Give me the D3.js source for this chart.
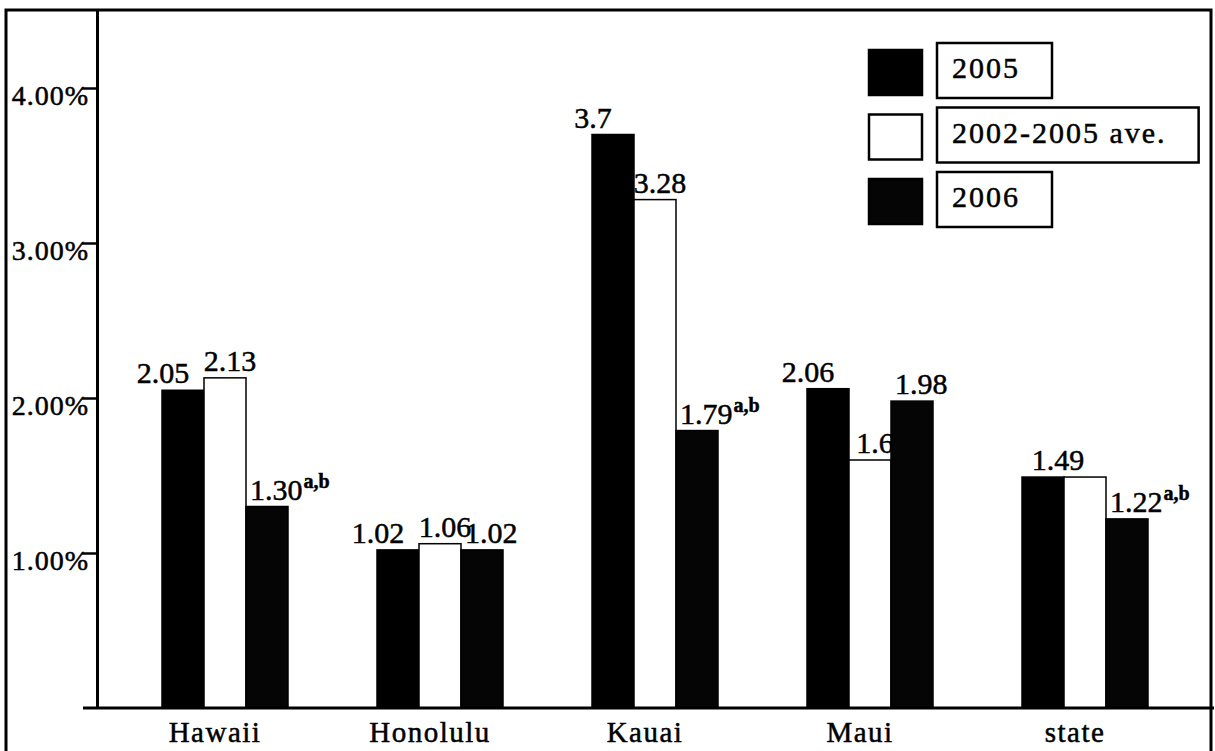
<!DOCTYPE html>
<html>
<head>
<meta charset="utf-8">
<script src="https://cdn.jsdelivr.net/npm/d3@7"></script>
<style>
    body { margin: 0; background: #fff; }
    svg { display: block; font-family: "Liberation Serif", "Times New Roman", serif; }
    svg text { stroke: #000; stroke-width: 0.5px; }
</style>
</head>
<body>
<div id="chart-area"></div>
<script>
const categories = ["Hawaii", "Honolulu", "Kauai", "Maui", "state"];
const seriesNames = ["2005", "2002-2005 ave.", "2006"];
const values2005 = [2.05, 1.02, 3.7, 2.06, 1.49];
const valuesAve = [2.13, 1.06, 3.28, 1.6, 1.49];
const values2006 = [1.30, 1.02, 1.79, 1.98, 1.22];
const labels2005 = ["2.05", "1.02", "3.7", "2.06", "1.49"];
const labelsAve = ["2.13", "1.06", "3.28", "1.6", ""];
const labels2006 = ["1.30", "1.02", "1.79", "1.98", "1.22"];
const notes2006 = ["a,b", "", "a,b", "", "a,b"];
const yTicks = [1, 2, 3, 4];

const width = 1215, height = 751;

let svg = d3.select("#chart-area").append("svg")
    .attr("width", width)
    .attr("height", height);

svg.append("rect").attr("width", width).attr("height", height).attr("fill", "#fff");

// outer frame (bottom edge is off the page)
svg.append("path")
    .attr("d", "M6,760 L6,10 L1211,10 L1211,760")
    .attr("fill", "none")
    .attr("stroke", "#000")
    .attr("stroke-width", 3);

let x = d3.scaleBand()
    .domain(categories)
    .range([117.5, 1192.5])
    .paddingInner(0.414)
    .paddingOuter(0.207);

let xSub = d3.scaleBand()
    .domain(seriesNames)
    .range([0, x.bandwidth()]);

let y = d3.scaleLinear()
    .domain([0, 4.5])
    .range([708, 10.5]);

// y axis
let yAxis = svg.append("g")
    .attr("transform", "translate(97,0)")
    .call(d3.axisLeft(y).tickValues(yTicks).tickSize(15).tickSizeOuter(0)
        .tickFormat(d => d3.format(".2%")(d / 100)));

yAxis.attr("font-family", null).attr("font-size", null);
yAxis.select(".domain").attr("stroke-width", 3);
yAxis.selectAll(".tick line").attr("stroke-width", 2.5);
yAxis.selectAll(".tick text")
    .attr("x", -8)
    .attr("dy", 16)
    .style("font-size", "28px")
    .style("letter-spacing", "1px")
    .attr("fill", "#000");

// bars
let rows = categories.map((c, i) => ({
    category: c,
    items: [
        {series: seriesNames[0], value: values2005[i], label: labels2005[i], note: ""},
        {series: seriesNames[1], value: valuesAve[i], label: labelsAve[i], note: ""},
        {series: seriesNames[2], value: values2006[i], label: labels2006[i], note: notes2006[i]}
    ]
}));

let fills = {"2005": "#000", "2002-2005 ave.": "#fff", "2006": "#050505"};

let groups = svg.selectAll("g.group")
    .data(rows)
    .join("g")
    .attr("class", "group")
    .attr("transform", d => `translate(${x(d.category)},0)`);

groups.selectAll("rect")
    .data(d => d.items)
    .join("rect")
    .attr("x", d => xSub(d.series))
    .attr("y", d => y(d.value))
    .attr("width", xSub.bandwidth())
    .attr("height", d => y(0) - y(d.value))
    .attr("fill", d => fills[d.series])
    .attr("stroke", "#000")
    .attr("stroke-width", 1.5);

// value labels
groups.each(function (row) {
    let g = d3.select(this);
    row.items.forEach((d, k) => {
        if (!d.label) return;
        let t = g.append("text")
            .attr("y", y(d.value) - 7)
            .style("font-size", "30px")
            .attr("fill", "#000");
        if (k === 0) {
            let shared = !row.items[1].label && row.items[1].value === d.value;
            t.attr("x", shared ? xSub(seriesNames[1]) - 6 : xSub(d.series) + xSub.bandwidth() / 2 - 20)
                .attr("text-anchor", "middle");
        } else if (k === 1) {
            t.attr("x", xSub(d.series) + xSub.bandwidth() / 2 + 5)
                .attr("text-anchor", "middle");
        } else {
            t.attr("x", xSub(d.series) + 4)
                .attr("text-anchor", "start");
        }
        t.append("tspan").text(d.label);
        if (d.note) {
            t.append("tspan")
                .attr("dy", -12)
                .attr("dx", 1)
                .style("font-size", "20px")
                .style("font-weight", "bold")
                .text(d.note);
        }
    });
});

// x axis baseline and labels
svg.append("line")
    .attr("x1", 83).attr("x2", 1214)
    .attr("y1", y(0)).attr("y2", y(0))
    .attr("stroke", "#000")
    .attr("stroke-width", 3);

svg.selectAll("text.cat")
    .data(categories)
    .join("text")
    .attr("class", "cat")
    .attr("x", d => x(d) + x.bandwidth() / 2 - 10)
    .attr("y", 742)
    .attr("text-anchor", "middle")
    .style("font-size", "29px")
    .style("letter-spacing", "1.5px")
    .text(d => d);

// legend
let legend = svg.append("g").attr("class", "legend");

seriesNames.forEach((name, i) => {
    let top = 43 + i * 64.5;
    legend.append("rect")
        .attr("x", 869)
        .attr("y", top + 7)
        .attr("width", 53)
        .attr("height", 45)
        .attr("fill", fills[name])
        .attr("stroke", "#000")
        .attr("stroke-width", 2.5);

    let label = legend.append("text")
        .attr("x", 952)
        .attr("y", top + 35)
        .style("font-size", "30px")
        .style("letter-spacing", "2px")
        .text(name);

    let len = label.node().getComputedTextLength();
    legend.insert("rect", "text")
        .attr("x", 937)
        .attr("y", top)
        .attr("width", len + 47)
        .attr("height", 55)
        .attr("fill", "#fff")
        .attr("stroke", "#000")
        .attr("stroke-width", 2.5);
});
</script>
</body>
</html>
